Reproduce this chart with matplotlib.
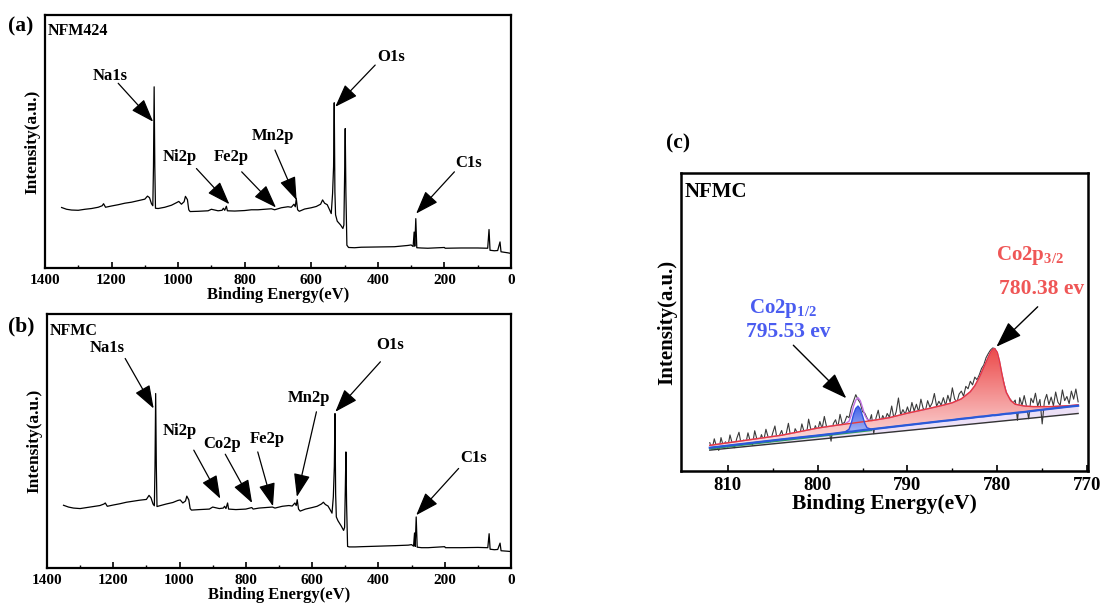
"""
XPS survey spectra (NFM424 / NFMC) and Co2p high resolution fit
"""
import numpy as np
import matplotlib
matplotlib.use('Agg')
import matplotlib.pyplot as plt
from matplotlib.colors import LinearSegmentedColormap

plt.rcParams['font.family'] = ['Liberation Serif', 'DejaVu Serif']
plt.rcParams['font.weight'] = 'bold'
plt.rcParams['axes.labelweight'] = 'bold'
plt.rcParams['mathtext.fontset'] = 'custom'
plt.rcParams['mathtext.rm'] = 'Liberation Serif:bold'
plt.rcParams['mathtext.bf'] = 'Liberation Serif:bold'

# ---- (a) NFM424 survey ----
energy_a = [1350, 1335, 1320, 1300, 1280, 1260, 1240, 1228, 1224, 1218, 1200, 1180, 1160, 1140,
            1120, 1100, 1092, 1086, 1080, 1076, 1074, 1072, 1070, 1068, 1060, 1040, 1020, 1005,
            998, 990, 982, 978, 972, 968, 964, 940, 910, 900, 880, 868, 864, 860, 855, 852,
            830, 800, 780, 760, 740, 720, 710, 690, 670, 660, 652, 648, 645, 641, 636, 620,
            600, 585, 572, 566, 560, 552, 545, 540, 536, 533, 531, 529, 527, 522, 512, 505,
            502, 500, 498, 496, 493, 488, 470, 450, 400, 350, 310, 300, 294, 291, 289, 286,
            283, 270, 250, 200, 198, 150, 100, 70, 66, 63, 50, 40, 33, 30, 20, 10, 2]
intensity_a = [23.9, 23.2, 22.9, 22.8, 23.2, 23.5, 24.0, 24.6, 25.4, 24.0, 24.5, 25.0, 25.6, 26.0,
               26.6, 27.2, 28.4, 27.8, 25.4, 24.6, 40.0, 71.6, 40.0, 23.6, 23.5, 24.0, 24.8, 25.8,
               26.3, 25.2, 26.2, 28.3, 27.0, 23.0, 22.3, 22.4, 22.6, 23.2, 22.6, 22.8, 23.6, 22.8, 24.4, 22.6,
               22.5, 22.7, 23.0, 23.0, 23.2, 23.4, 23.0, 23.8, 24.2, 24.0, 25.2, 24.2, 27.4, 23.0, 22.4, 23.3,
               23.8, 24.3, 25.2, 26.9, 25.6, 25.0, 23.0, 21.5, 29.4, 40.0, 65.3, 30.0, 21.0, 18.5, 17.0, 15.6,
               17.0, 35.0, 55.1, 30.0, 9.0, 8.1, 8.0, 8.2, 8.3, 8.4, 8.9, 9.1, 8.5, 14.2, 8.6, 19.5,
               8.0, 7.9, 7.8, 8.1, 7.8, 7.9, 7.9, 7.8, 15.2, 7.0, 6.8, 6.9, 10.3, 6.4, 6.2, 6.0, 5.8]

# ---- (b) NFMC survey ----
energy_b = [1350, 1335, 1320, 1300, 1280, 1260, 1240, 1228, 1224, 1218, 1200, 1180, 1160, 1140,
            1120, 1100, 1092, 1086, 1080, 1076, 1074, 1072, 1070, 1068, 1060, 1040, 1020, 1005,
            998, 990, 982, 978, 972, 968, 964, 940, 910, 900, 880, 868, 864, 860, 855, 852,
            830, 800, 782, 778, 760, 740, 720, 712, 690, 670, 660, 652, 648, 645, 641, 636, 620,
            600, 585, 572, 566, 560, 552, 545, 540, 536, 533, 531, 529, 527, 522, 512, 505,
            502, 500, 498, 496, 493, 488, 470, 450, 400, 350, 310, 300, 294, 291, 289, 286,
            283, 270, 250, 200, 198, 150, 100, 70, 66, 63, 50, 40, 33, 30, 20, 10, 2]
intensity_b = [24.7, 24.0, 23.6, 23.4, 23.8, 24.2, 24.6, 25.2, 25.6, 24.3, 24.8, 25.3, 25.9, 26.3,
               26.7, 27.0, 28.6, 27.6, 25.2, 24.5, 40.0, 68.7, 40.0, 24.2, 24.5, 25.2, 25.8, 26.6,
               26.8, 25.6, 26.4, 28.3, 26.8, 23.4, 22.8, 23.0, 23.2, 24.0, 23.4, 23.6, 24.3, 23.4, 25.6, 23.2,
               23.0, 23.2, 23.8, 23.2, 23.6, 23.8, 24.0, 23.6, 24.3, 24.6, 24.4, 25.6, 24.6, 26.9, 23.2, 22.4, 23.2,
               23.8, 24.3, 25.2, 25.9, 25.0, 24.4, 22.8, 21.6, 28.0, 40.0, 60.8, 29.0, 20.1, 18.6, 16.5, 14.8,
               16.0, 30.0, 45.7, 25.0, 8.5, 8.3, 8.3, 8.4, 8.6, 8.8, 9.0, 9.2, 8.6, 13.8, 8.5, 20.1,
               8.2, 8.0, 8.0, 8.4, 8.0, 8.0, 8.1, 8.0, 13.5, 7.4, 7.2, 7.3, 9.8, 6.8, 6.7, 6.6, 6.5]

# peak labels: (text, text_x, text_y, arrow_tail_x, arrow_tail_y, tip_x, tip_y)
labels_a = [('Na1s', 1205, 75.9, 1180, 73.0, 1075, 57.8),
            ('Ni2p', 995, 43.9, 945, 39.3, 846, 25.2),
            ('Fe2p', 841, 43.9, 809, 38.0, 706, 23.9),
            ('Mn2p', 716, 52.1, 709, 46.6, 644, 26.8),
            ('O1s', 361, 83.2, 408, 80.2, 528, 63.7),
            ('C1s', 127, 41.3, 170, 38.0, 285, 21.5)]
labels_b = [('Na1s', 1217, 86.5, 1164, 82.5, 1078, 62.8),
            ('Ni2p', 998, 53.9, 957, 46.4, 877, 27.3),
            ('Co2p', 872, 48.8, 862, 44.8, 781, 25.6),
            ('Fe2p', 736, 50.6, 764, 45.7, 718, 24.3),
            ('Mn2p', 611, 66.8, 587, 61.5, 646, 28.0),
            ('O1s', 364, 87.8, 394, 81.2, 530, 61.5),
            ('C1s', 113, 43.5, 158, 39.2, 286, 20.8)]

# ---- (c) Co2p high resolution ----
raw_energy = np.arange(812.0, 770.99, -0.25)
raw_counts = [9.5, 7.2, 10.8, 8.1, 6.9, 11.2, 8.4, 9.8,
              8.0, 12.1, 9.2, 7.8, 10.9, 13.0, 8.9, 10.4,
              9.1, 12.8, 10.0, 8.7, 13.5, 10.6, 9.5, 12.2,
              10.1, 14.0, 11.3, 9.8, 12.7, 15.1, 10.5, 11.9,
              13.6, 10.9, 12.4, 16.0, 11.5, 10.6, 14.2, 12.8,
              11.9, 15.8, 13.1, 12.0, 17.4, 13.9, 12.6, 15.2,
              13.4, 16.6, 14.2, 18.3, 14.8, 13.9, 10.0, 15.9,
              17.2, 14.6, 19.0, 15.8, 16.3, 18.4, 17.9, 21.3,
              23.5, 25.6, 24.0, 22.8, 19.9, 19.4, 17.8, 16.4,
              18.9, 12.5, 17.8, 20.4, 16.2, 18.6, 17.1, 19.3,
              18.0, 21.8, 17.6, 19.9, 24.5, 18.8, 20.6, 19.0,
              21.5, 19.2, 23.0, 20.1, 22.4, 19.8, 24.1, 21.0,
              20.2, 23.6, 21.4, 22.8, 26.0, 21.7, 23.4, 22.1,
              24.6, 22.0, 25.4, 23.1, 27.9, 24.2, 23.0, 25.8,
              26.8, 25.1, 28.4, 27.6, 30.1, 28.9, 31.5, 30.6,
              32.3, 34.4, 35.6, 38.0, 39.4, 40.6, 41.3, 41.0,
              39.2, 36.1, 32.4, 29.3, 26.2, 24.6, 23.9, 22.8,
              23.8, 17.0, 24.6, 22.0, 25.3, 21.8, 17.5, 24.4,
              22.9, 26.1, 21.7, 24.0, 15.8, 23.4, 25.7, 22.3,
              24.8, 21.9, 26.5, 23.1, 22.0, 27.2, 23.6, 25.0,
              22.6, 26.8, 24.1, 27.5, 23.2]

fit_energy = [812, 808, 804, 800, 798, 797, 796.5, 796.25, 796, 795.75, 795.5, 795.25, 795,
              794.75, 794.5, 794, 792, 790, 788, 786, 785, 784, 783, 782.5, 782, 781.5, 781,
              780.75, 780.5, 780.3, 780, 779.75, 779.5, 779.25, 779, 778.5, 778, 777, 776,
              774, 772, 771]
fit_background = [7.8, 9.2, 10.6, 11.9, 12.6, 13.0, 13.2, 13.2, 13.3, 13.4, 13.5, 13.6, 13.7,
                  13.8, 13.8, 14.0, 14.7, 15.4, 16.1, 16.8, 17.1, 17.5, 17.8, 18.0, 18.2, 18.3, 18.5,
                  18.6, 18.7, 18.7, 18.8, 18.9, 19.0, 19.1, 19.2, 19.3, 19.5, 19.8, 20.2,
                  20.9, 21.6, 21.9]
fit_p32 = [8.6, 10.3, 12.0, 14.4, 15.3, 15.7, 15.9, 16.0, 16.1, 16.2, 16.3, 16.4, 16.5,
           16.6, 16.7, 16.9, 17.9, 19.4, 20.7, 22.1, 22.9, 24.2, 26.6, 28.6, 31.4, 34.8, 38.2,
           39.8, 40.8, 41.1, 39.8, 36.8, 32.8, 29.2, 26.4, 23.6, 22.4, 21.8, 21.6,
           21.6, 21.9, 22.2]
fit_p12 = [7.8, 9.2, 10.6, 11.9, 12.6, 13.0, 14.0, 16.0, 19.0, 21.0, 21.8, 20.8, 18.5,
           16.0, 14.5, 14.0, 14.7, 15.4, 16.1, 16.8, 17.1, 17.5, 17.8, 18.0, 18.2, 18.3, 18.5,
           18.6, 18.7, 18.7, 18.8, 18.9, 19.0, 19.1, 19.2, 19.3, 19.5, 19.8, 20.2,
           20.9, 21.6, 21.9]
fit_envelope = [8.6, 10.3, 12.0, 14.4, 15.3, 15.7, 16.7, 18.8, 21.8, 23.8, 24.6, 23.6, 21.3,
                18.8, 17.4, 16.9, 17.9, 19.4, 20.7, 22.1, 22.9, 24.2, 26.6, 28.6, 31.4, 34.8, 38.2,
                39.8, 40.8, 41.1, 39.8, 36.8, 32.8, 29.2, 26.4, 23.6, 22.4, 21.8, 21.6,
                21.6, 21.9, 22.2]
line_energy = [812, 771]
line_linear = [7.0, 19.3]
green_energy = [812, 794]
green_level = [7.4, 13.6]


def gradient_fill(ax, x, y_low, y_high, c_top, c_bottom, zorder):
    poly = ax.fill_between(x, y_low, y_high, facecolor='none', edgecolor='none')
    path = poly.get_paths()[0]
    grad = np.linspace(0, 1, 256).reshape(-1, 1)
    cmap = LinearSegmentedColormap.from_list('g', [c_bottom, c_top])
    im = ax.imshow(grad, extent=[min(x), max(x), min(y_low), max(y_high)], origin='lower',
                   aspect='auto', cmap=cmap, zorder=zorder)
    im.set_clip_path(path, transform=ax.transData)


def style_survey(ax, name, labels):
    ax.set_xlim(1400, 0)
    ax.set_ylim(0, 100)
    ax.set_xticks(range(0, 1401, 200))
    ax.set_xticks(range(100, 1400, 200), minor=True)
    ax.set_yticks([])
    ax.tick_params(axis='x', which='major', direction='in', length=4, width=1.2, labelsize=11, pad=4)
    ax.tick_params(axis='x', which='minor', direction='in', length=2.5, width=1.0)
    for s in ax.spines.values():
        s.set_linewidth(1.6)
    ax.set_xlabel('Binding Energy(eV)', fontsize=12, labelpad=0)
    ax.set_ylabel('Intensity(a.u.)', fontsize=12.5, labelpad=3)
    ax.text(0.006, 0.935, name, transform=ax.transAxes, fontsize=11.5, va='center', ha='left')
    for txt, tx, ty, ax0, ay0, px, py in labels:
        ax.text(tx, ty, txt, fontsize=12, ha='center', va='center')
        ax.annotate('', xy=(px, py), xytext=(ax0, ay0),
                    arrowprops=dict(arrowstyle='-|>,head_length=0.9,head_width=0.32',
                                    mutation_scale=16, color='black', lw=0.9,
                                    shrinkA=0, shrinkB=0))


fig = plt.figure(figsize=(11.02, 6.06), dpi=100)

ax_a = fig.add_axes([0.0408, 0.5578, 0.4229, 0.4175])
ax_a.plot(energy_a, intensity_a, color='black', lw=0.9)
style_survey(ax_a, 'NFM424', labels_a)

ax_b = fig.add_axes([0.0426, 0.0627, 0.4211, 0.4191])
ax_b.plot(energy_b, intensity_b, color='black', lw=0.9)
style_survey(ax_b, 'NFMC', labels_b)

fig.text(0.019, 0.957, '(a)', fontsize=15.5, va='center', ha='center')
fig.text(0.019, 0.462, '(b)', fontsize=15.5, va='center', ha='center')
fig.text(0.615, 0.764, '(c)', fontsize=15.5, va='center', ha='center')

# ---- (c) ----
ax_c = fig.add_axes([0.618, 0.2228, 0.3693, 0.4917])
lin_on_fit = np.interp(fit_energy[::-1], line_energy[::-1], line_linear[::-1])[::-1]
ax_c.fill_between(fit_energy, lin_on_fit, fit_background, color='#ece0f6', lw=0, zorder=1)
ax_c.plot(raw_energy, raw_counts, color='#3a3a3a', lw=0.8, zorder=1.5)
gradient_fill(ax_c, fit_energy, fit_background, fit_p32, '#ec4a4a', '#fde6e6', 2)
gradient_fill(ax_c, fit_energy, fit_background, fit_p12, '#3f5fe8', '#dfe4fb', 2.1)
ax_c.plot(line_energy, line_linear, color='#333333', lw=1.0, zorder=3)
ax_c.plot(green_energy, green_level, color='#2e9e5a', lw=1.0, zorder=3)
ax_c.plot(fit_energy, fit_envelope, color='#c070e0', lw=1.0, zorder=3.5)
ax_c.plot(fit_energy, fit_p32, color='#e83a3a', lw=1.0, zorder=4)
ax_c.plot(fit_energy, fit_p12, color='#3050e0', lw=1.0, zorder=4)
ax_c.plot(fit_energy, fit_background, color='#2a5ad8', lw=1.6, zorder=4)

ax_c.set_xlim(815.2, 769.9)
ax_c.set_ylim(0, 100)
ax_c.set_xticks([810, 800, 790, 780, 770])
ax_c.set_xticks([805, 795, 785, 775], minor=True)
ax_c.set_yticks([])
ax_c.tick_params(axis='x', which='major', direction='in', length=4, width=1.2, labelsize=13.5, pad=4)
ax_c.tick_params(axis='x', which='minor', direction='in', length=2.5, width=1.0)
for s in ax_c.spines.values():
    s.set_linewidth(1.8)
ax_c.set_xlabel('Binding Energy(eV)', fontsize=15.5, labelpad=0)
ax_c.set_ylabel('Intensity(a.u.)', fontsize=15, labelpad=3)
ax_c.text(0.01, 0.935, 'NFMC', transform=ax_c.transAxes, fontsize=15, va='center', ha='left')

red = '#ef5656'
blue = '#4a5cf0'
ax_c.text(776.4, 72.4, r'Co2p$_{\mathregular{3/2}}$', color=red, fontsize=15, ha='center', va='center')
ax_c.text(775.1, 61.2, '780.38 ev', color=red, fontsize=15.5, ha='center', va='center')
ax_c.text(803.9, 54.5, r'Co2p$_{\mathregular{1/2}}$', color=blue, fontsize=15, ha='center', va='center')
ax_c.text(803.3, 46.7, '795.53 ev', color=blue, fontsize=15.5, ha='center', va='center')
arrow = dict(arrowstyle='-|>,head_length=0.9,head_width=0.32', mutation_scale=18,
             color='black', lw=1.0, shrinkA=0, shrinkB=0)
ax_c.annotate('', xy=(780.1, 41.7), xytext=(775.5, 55.1), arrowprops=arrow, zorder=6)
ax_c.annotate('', xy=(796.8, 24.4), xytext=(802.7, 42.2), arrowprops=arrow, zorder=6)

fig.savefig('out.png', dpi=100)
